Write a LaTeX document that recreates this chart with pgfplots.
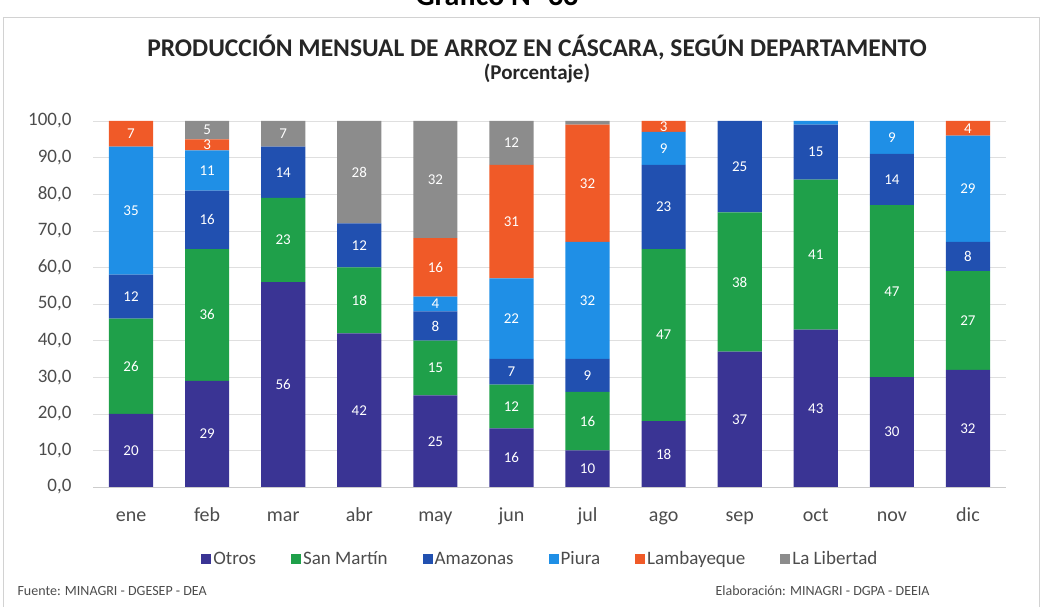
\documentclass[border=0pt]{standalone}
\usepackage{fontspec}
\setmainfont{Carlito}
\usepackage{pgfplots}
\usepackage{pgfplotstable}
\pgfplotsset{compat=1.18}
\definecolor{cOtros}{HTML}{3A3494}
\definecolor{cSM}{HTML}{1FA04A}
\definecolor{cAM}{HTML}{2150B0}
\definecolor{cPI}{HTML}{1F8FE6}
\definecolor{cLA}{HTML}{F05A28}
\definecolor{cLL}{HTML}{8C8C8C}
\pgfplotstableread{
x  O  SM AM PI LA LL
0  20 26 12 35 7  0
1  29 36 16 11 3  5
2  56 23 14 0  0  7
3  42 18 12 0  0  28
4  25 15 8  4  16 32
5  16 12 7  22 31 12
6  10 16 9  32 32 1
7  18 47 23 9  3  0
8  37 38 25 0  0  0
9  43 41 15 1  0  0
10 30 47 14 9  0  0
11 32 27 8  29 4  0
}\data
\begin{document}
\begin{tikzpicture}
\useasboundingbox (0pt,0pt) rectangle (1043pt,607pt);
\draw[gray!35, line width=1pt] (3pt,-5pt) rectangle (1039pt,589pt);
\node[font=\bfseries\fontsize{30}{34}\selectfont, anchor=base] at (497pt,601pt) {Gráfico N° 33};
\node[font=\bfseries\fontsize{25.5}{28}\selectfont, text=black!85] at (537pt,559pt) {PRODUCCIÓN MENSUAL DE ARROZ EN CÁSCARA, SEGÚN DEPARTAMENTO};
\node[font=\bfseries\fontsize{21}{24}\selectfont, text=black!85] at (537pt,534pt) {(Porcentaje)};
\node[font=\fontsize{14}{16}\selectfont, text=black!70, anchor=west] at (14pt,16pt) {Fuente: MINAGRI - DGESEP - DEA};
\node[font=\fontsize{14}{16}\selectfont, text=black!70, anchor=west] at (712pt,16pt) {Elaboración: MINAGRI - DGPA - DEEIA};
\begin{axis}[
  at={(93pt,120pt)}, anchor=south west,
  scale only axis, width=913pt, height=366pt,
  ybar stacked, bar width=0.58,
  xmin=-0.5, xmax=11.5, ymin=0, ymax=100,
  xtick={0,...,11},
  xticklabels={ene,feb,mar,abr,may,jun,jul,ago,sep,oct,nov,dic},
  ytick={0,10,...,100},
  yticklabel style={font=\fontsize{19}{22}\selectfont, text=black!70, xshift=-18pt, /pgf/number format/.cd, use comma, fixed, fixed zerofill, precision=1, assume math mode=true},
  xticklabel style={font=\fontsize{20}{24}\selectfont, text=black!70, text height=14pt, text depth=4pt, yshift=-17pt},
  major tick length=0pt,
  ymajorgrids, grid style={gray!25},
  axis x line*=bottom, axis y line*=left,
  x axis line style={gray!40},
  y axis line style={draw=none},
  nodes near coords={\ifdim\rawy pt<1.5pt\else\pgfmathprintnumber[fixed,precision=0,assume math mode=true]{\rawy}\fi},
  every node near coord/.append style={font=\fontsize{15}{18}\selectfont, text=white, anchor=center},
  legend style={at={(0.49,-0.197)}, anchor=center, draw=none, legend columns=-1, font=\fontsize{19}{22}\selectfont, text=black!70,
    /tikz/every even column/.append style={column sep=33pt}},
  legend image code/.code={\fill[#1] (0pt,-5pt) rectangle (10pt,5pt);},
]
\addplot[fill=cOtros, draw=none, visualization depends on={\thisrow{O}\as\rawy}] table[x=x,y=O] {\data};
\addplot[fill=cSM, draw=none, visualization depends on={\thisrow{SM}\as\rawy}] table[x=x,y=SM] {\data};
\addplot[fill=cAM, draw=none, visualization depends on={\thisrow{AM}\as\rawy}] table[x=x,y=AM] {\data};
\addplot[fill=cPI, draw=none, visualization depends on={\thisrow{PI}\as\rawy}] table[x=x,y=PI] {\data};
\addplot[fill=cLA, draw=none, visualization depends on={\thisrow{LA}\as\rawy}] table[x=x,y=LA] {\data};
\addplot[fill=cLL, draw=none, visualization depends on={\thisrow{LL}\as\rawy}] table[x=x,y=LL] {\data};
\legend{Otros, San Martín, Amazonas, Piura, Lambayeque, La Libertad}
\end{axis}
\end{tikzpicture}
\end{document}
